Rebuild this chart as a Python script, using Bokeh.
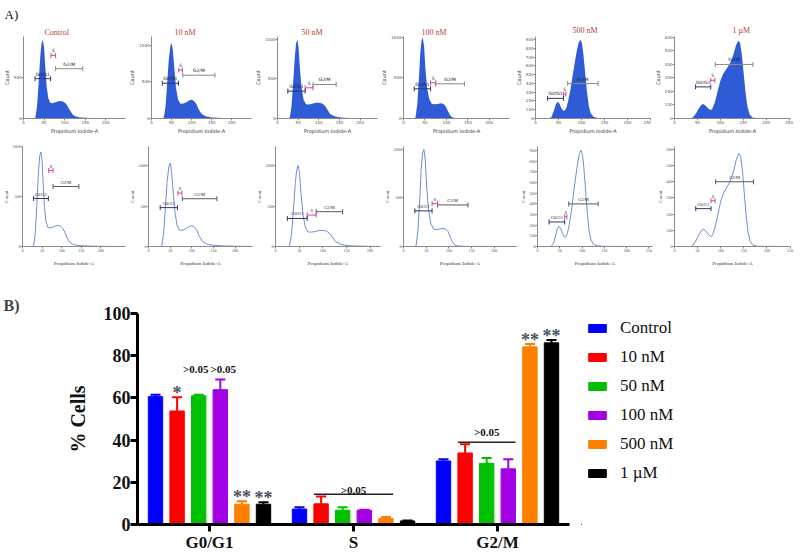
import math
from bokeh.plotting import figure
from bokeh.models import Range1d, FactorRange, FixedTicker, ColumnDataSource, Legend, LegendItem, Title, Label
from bokeh.transform import dodge
from bokeh.layouts import column, row
from bokeh.embed import file_html
from bokeh.resources import INLINE
from bokeh.core.properties import value

# ======================= DATA : panel A (DNA histograms) =======================
conditions = ["Control", "10 nM", "50 nM", "100 nM", "500 nM", "1 \u00b5M"]

pi_control = [0, 26, 29, 33, 37, 41, 44, 47, 50, 53, 56, 60, 65, 70, 78, 85, 92, 98, 104, 110, 115, 120, 127, 135, 150, 175, 210, 250]
count_control = [0, 0, 15, 150, 450, 760, 910, 945, 860, 620, 400, 250, 190, 185, 195, 208, 210, 200, 175, 125, 80, 45, 25, 15, 8, 4, 1, 0]

pi_10nm = [0, 28, 31, 35, 39, 43, 47, 50, 53, 57, 61, 66, 72, 80, 88, 95, 100, 106, 112, 118, 125, 135, 150, 175, 210, 250]
count_10nm = [0, 0, 20, 170, 480, 800, 990, 1030, 940, 680, 420, 260, 200, 205, 225, 250, 255, 240, 195, 120, 60, 30, 15, 6, 2, 0]

pi_50nm = [0, 27, 30, 34, 38, 42, 45, 48, 51, 54, 58, 63, 69, 76, 84, 92, 100, 108, 115, 121, 127, 135, 145, 160, 190, 240]
count_50nm = [0, 0, 15, 160, 460, 790, 950, 1000, 900, 650, 400, 240, 180, 178, 185, 198, 200, 190, 160, 110, 60, 35, 18, 8, 3, 0]

pi_100nm = [0, 25, 28, 32, 36, 39, 42, 45, 48, 51, 55, 60, 66, 72, 80, 87, 93, 98, 103, 108, 113, 120, 135, 250]
count_100nm = [0, 0, 15, 170, 500, 800, 960, 1000, 890, 620, 380, 240, 180, 175, 180, 187, 180, 155, 100, 45, 15, 5, 1, 0]

pi_500nm = [0, 30, 35, 40, 44, 48, 52, 56, 60, 63, 67, 71, 76, 81, 86, 90, 94, 98, 101, 104, 108, 112, 116, 120, 126, 135, 150, 250]
count_500nm = [0, 0, 20, 90, 160, 190, 170, 120, 90, 88, 120, 200, 330, 500, 660, 780, 870, 900, 860, 740, 520, 300, 140, 60, 20, 6, 1, 0]

pi_1um = [0, 36, 42, 48, 54, 59, 63, 68, 73, 78, 82, 88, 94, 100, 106, 112, 118, 124, 129, 134, 139, 143, 147, 151, 155, 159, 164, 170, 180, 250]
count_1um = [0, 0, 15, 45, 80, 102, 107, 95, 75, 62, 68, 120, 200, 280, 330, 360, 390, 430, 480, 540, 575, 560, 470, 330, 190, 90, 30, 8, 1, 0]

gate_names = ["G0/G1", "S", "G2/M"]
gate_start_control = [28, 67, 78]
gate_end_control = [66, 78, 144]
gate_level_control = [480, 760, 600]
gate_start_10nm = [27, 68, 78]
gate_end_10nm = [67, 77, 158]
gate_level_10nm = [480, 660, 590]
gate_start_50nm = [25, 67, 86]
gate_end_50nm = [67, 86, 142]
gate_level_50nm = [346, 388, 430]
gate_start_100nm = [25, 63, 75]
gate_end_100nm = [63, 75, 142]
gate_level_100nm = [367, 441, 428]
gate_start_500nm = [26, 61, 70]
gate_end_500nm = [61, 66, 136]
gate_level_500nm = [230, 279, 399]
gate_start_1um = [46, 79, 89]
gate_end_1um = [79, 88, 171]
gate_level_1um = [234, 283, 400]

xticks_top = [[0, 50, 100, 150, 200], [0, 50, 100, 150, 200, 250], [0, 50, 100, 150, 200],
              [0, 50, 100, 150, 200, 250], [0, 50, 100, 150, 200, 250], [0, 50, 100, 150, 200, 250]]
yticks_top = [[0, 500], [0, 500, 1000], [0, 500, 1000], [0, 500, 1000],
              [0, 100, 200, 300, 400, 500, 600, 700, 800, 900], [0, 100, 200, 300, 400, 500, 600]]
xticks_bottom = [[0, 50, 100, 150, 200], [0, 50, 100, 150, 200], [0, 50, 100, 150, 200],
                 [0, 50, 100, 150, 200, 250], [0, 50, 100, 150, 200, 250], [0, 50, 100, 150, 200, 250]]
yticks_bottom = [[0, 500, 1000], [0, 500, 1000], [0, 500, 1000], [0, 500, 1000],
                 [0, 100, 200, 300, 400, 500, 600, 700, 800, 900], [0, 100, 200, 300, 400, 500, 600]]
scale_note = "x1000"

# ======================= DATA : panel B (bar chart) =======================
phases = ["G0/G1", "S", "G2/M"]
series = ["Control", "10 nM", "50 nM", "100 nM", "500 nM", "1 \u00b5M"]
mean_g0g1 = [60.6, 53.8, 61.0, 63.9, 9.6, 9.6]
mean_s = [7.3, 9.8, 6.8, 6.8, 2.8, 1.7]
mean_g2m = [30.1, 33.9, 29.0, 26.4, 84.2, 86.1]
err_g0g1 = [0.9, 6.5, 0.5, 4.8, 1.4, 1.0]
err_s = [0.9, 3.5, 1.4, 0.2, 0.8, 0.2]
err_g2m = [0.8, 4.1, 2.5, 4.5, 1.4, 1.4]
y_ticks_b = [0, 20, 40, 60, 80, 100]

star_marks = [("G0/G1", 1, "*"), ("G0/G1", 4, "**"), ("G0/G1", 5, "**"),
              ("G2/M", 4, "**"), ("G2/M", 5, "**")]
bracket_marks = [("S", 1, 4, ">0.05"), ("G2/M", 1, 3, ">0.05")]
pair_marks = [("G0/G1", 2, 3, ">0.05")]

# ======================= STYLE / LAYOUT =======================
SERIF = "Liberation Serif"
SANS = "DejaVu Sans"
fill_top = "#2f5cd6"
line_bottom = "#6f8fd2"
gate_colors = ["#2e3470", "#d0479c", "#8a8a8a"]
gate_colors_bottom = ["#2e3470", "#d0479c", "#5a5a5a"]
series_colors = ["#0000ff", "#ff0000", "#00c000", "#a400e4", "#ff8000", "#000000"]
bracket_text_gap = [4, 10]

TOP = dict(width=[126, 126, 126, 132, 141, 149], bl=[21, 18, 17, 21, 25, 21], br=[1, 1, 1, 1, 1, 10],
           height=136, bt=36, bb=17,
           x_end=[248, 249, 242, 247, 250, 253], y_end=[988, 1117, 1037, 1012, 937, 607],
           title_offset=[21, 23, 24, 18, 37, 58], title_standoff=[0, 0, 0, 0, 3, 4],
           note=[False, True, False, True, True, True])
BOT = dict(width=[126, 127, 128, 136, 136, 147], bl=[19, 13, 16, 16, 19, 21], br=[1, 1, 1, 1, 1, 10],
           height=132, bt=10, bb=22,
           x_end=[263, 240, 222, 249, 258, 251], y_end=[1000, 1235, 1235, 1030, 937, 618],
           note=[False, False, False, True, True, True])

curves_x = [pi_control, pi_10nm, pi_50nm, pi_100nm, pi_500nm, pi_1um]
curves_y = [count_control, count_10nm, count_50nm, count_100nm, count_500nm, count_1um]
gates_start = [gate_start_control, gate_start_10nm, gate_start_50nm, gate_start_100nm, gate_start_500nm, gate_start_1um]
gates_end = [gate_end_control, gate_end_10nm, gate_end_50nm, gate_end_100nm, gate_end_500nm, gate_end_1um]
gates_level = [gate_level_control, gate_level_10nm, gate_level_50nm, gate_level_100nm, gate_level_500nm, gate_level_1um]


def hist_panel(k, top_row):
    L = TOP if top_row else BOT
    font = SANS if top_row else SERIF
    p = figure(width=L["width"][k], height=L["height"],
               x_range=Range1d(0, L["x_end"][k]), y_range=Range1d(0, L["y_end"][k]),
               output_backend="svg", toolbar_location=None, title=None,
               min_border_left=L["bl"][k], min_border_right=L["br"][k],
               min_border_top=L["bt"], min_border_bottom=L["bb"])
    p.xgrid.visible = False
    p.ygrid.visible = False
    p.outline_line_color = None
    if top_row:
        p.add_layout(Title(text=conditions[k], text_font=SERIF, text_font_style="normal",
                           text_font_size="8px", text_color="#c23b33", align="left",
                           offset=TOP["title_offset"][k], standoff=TOP["title_standoff"][k]), "above")
    for ax, ticks in ((p.xaxis, (xticks_top if top_row else xticks_bottom)[k]),
                      (p.yaxis, (yticks_top if top_row else yticks_bottom)[k])):
        ax.ticker = FixedTicker(ticks=ticks)
        ax.minor_tick_line_color = None
        ax.major_tick_out = 2
        ax.major_tick_in = 0
        ax.major_label_standoff = 0
        ax.axis_label_standoff = 1
        ax.major_label_text_font = font
        ax.major_label_text_font_size = "4px"
        ax.major_label_text_color = "#555555"
        ax.axis_label_text_font = font
        ax.axis_label_text_font_size = "5px"
        ax.axis_label_text_font_style = "normal"
        ax.axis_label_text_color = "#333333"
        ax.axis_line_color = "#8a8a8a"
        ax.major_tick_line_color = "#8a8a8a"
    if not top_row:
        p.xaxis.axis_label_standoff = 6
    p.xaxis.axis_label = "Propidium Iodide-A"
    p.yaxis.axis_label = "Count"
    if L["note"][k]:
        p.add_layout(Label(x=L["x_end"][k], y=0, text=scale_note, text_font=font, text_font_size="3px",
                           text_color="#666666", text_align="right", text_baseline="top", y_offset=-7))
    src = ColumnDataSource(dict(x=curves_x[k], y=curves_y[k]))
    if top_row:
        p.varea(x="x", y1=0, y2="y", source=src, fill_color=fill_top)
    else:
        p.line(x="x", y="y", source=src, line_color=line_bottom, line_width=1)
    cols = gate_colors if top_row else gate_colors_bottom
    gs = gates_start[k]
    ge = gates_end[k]
    gl = gates_level[k]
    gsrc = ColumnDataSource(dict(x0=gs, x1=ge, y=gl, c=cols, name=gate_names,
                                 xm=[(a + b) / 2 for a, b in zip(gs, ge)]))
    p.segment(x0="x0", x1="x1", y0="y", y1="y", source=gsrc, line_color="c", line_width=1)
    csrc = ColumnDataSource(dict(x=gs + ge, y=gl + gl, c=cols + cols))
    p.scatter(x="x", y="y", source=csrc, marker="dash", angle=math.pi / 2, size=5,
              line_color="c", line_width=1)
    p.text(x="xm", y="y", text="name", source=gsrc, text_align="center", text_baseline="bottom",
           y_offset=-2, text_font=value(font), text_font_size="4.5px", text_color="#222222")
    return p


top_figs = [hist_panel(k, True) for k in range(6)]
top_figs[0].add_layout(Title(text="A)", text_font=SERIF, text_font_style="normal", text_font_size="13px",
                             text_color="#111111", align="left", offset=-19, standoff=8), "above")
top_row = row(*top_figs, spacing=0)
bottom_row = row(*[hist_panel(k, False) for k in range(6)], spacing=0)

# ======================= panel B =======================
pB = figure(width=575, height=286, x_range=FactorRange(factors=phases, range_padding=0),
            y_range=Range1d(0, 100), output_backend="svg", toolbar_location=None,
            min_border_left=137, min_border_right=6, min_border_top=45, min_border_bottom=30)
pB.xgrid.visible = False
pB.ygrid.visible = False
pB.outline_line_color = None
pB.title.text = "B)"
pB.title.text_font = SERIF
pB.title.text_font_size = "16px"
pB.title.text_font_style = "bold"
pB.title.align = "left"
pB.title.offset = -134
pB.title.standoff = 0

means = [mean_g0g1, mean_s, mean_g2m]
errs = [err_g0g1, err_s, err_g2m]
bar_w = 0.1
step = 0.15
offsets = [(j - (len(series) - 1) / 2) * step for j in range(len(series))]
up = [[means[k][j] + errs[k][j] for j in range(len(series))] for k in range(len(phases))]

for j, name in enumerate(series):
    src = ColumnDataSource(dict(grp=phases, top=[means[k][j] for k in range(3)],
                                up=[up[k][j] for k in range(3)]))
    pB.vbar(x=dodge("grp", offsets[j], range=pB.x_range), top="top", width=bar_w, source=src,
            fill_color=series_colors[j], line_color=series_colors[j])
    pB.segment(x0=dodge("grp", offsets[j], range=pB.x_range), x1=dodge("grp", offsets[j], range=pB.x_range),
               y0="top", y1="up", source=src, line_color=series_colors[j], line_width=2)
    pB.segment(x0=dodge("grp", offsets[j] - 0.035, range=pB.x_range),
               x1=dodge("grp", offsets[j] + 0.035, range=pB.x_range),
               y0="up", y1="up", source=src, line_color=series_colors[j], line_width=2)

for ph, j, txt in star_marks:
    k = phases.index(ph)
    s = ColumnDataSource(dict(grp=[ph], y=[up[k][j]], t=[txt]))
    pB.text(x=dodge("grp", offsets[j], range=pB.x_range), y="y", text="t", source=s,
            text_align="center", text_baseline="alphabetic", y_offset=-4,
            text_font=value(SERIF), text_font_size="18px", text_font_style="bold", text_color="#4a4f5c")

for (ph, a, b, txt), gap in zip(bracket_marks, bracket_text_gap):
    k = phases.index(ph)
    yb = max(up[k][a:b + 1]) + 1.0
    x0 = offsets[a] - bar_w / 2
    x1 = offsets[b] + bar_w / 2
    s = ColumnDataSource(dict(grp=[ph], y=[yb], t=[txt]))
    pB.segment(x0=dodge("grp", x0, range=pB.x_range), x1=dodge("grp", x1, range=pB.x_range),
               y0="y", y1="y", source=s, line_color="#222222", line_width=1.5)
    pB.text(x=dodge("grp", (x0 + x1) / 2, range=pB.x_range), y="y", text="t", source=s,
            text_align="center", text_baseline="alphabetic", y_offset=-gap,
            text_font=value(SERIF), text_font_size="11px", text_font_style="bold", text_color="#111111")

for ph, a, b, txt in pair_marks:
    k = phases.index(ph)
    yb = max(up[k][a:b + 1])
    xm = (offsets[a] + offsets[b]) / 2
    s = ColumnDataSource(dict(grp=[ph], y=[yb], t=[txt]))
    pB.text(x=dodge("grp", xm, range=pB.x_range), y="y", text="t", source=s,
            text_align="right", text_baseline="alphabetic", y_offset=-11, x_offset=-1,
            text_font=value(SERIF), text_font_size="11px", text_font_style="bold", text_color="#111111")
    pB.text(x=dodge("grp", xm, range=pB.x_range), y="y", text="t", source=s,
            text_align="left", text_baseline="alphabetic", y_offset=-11, x_offset=1,
            text_font=value(SERIF), text_font_size="11px", text_font_style="bold", text_color="#111111")

pB.yaxis.ticker = FixedTicker(ticks=y_ticks_b)
pB.yaxis.axis_label = "% Cells"
pB.yaxis.axis_label_standoff = 12
for ax in (pB.xaxis, pB.yaxis):
    ax.axis_line_width = 3
    ax.axis_line_color = "#000000"
    ax.major_tick_line_width = 3
    ax.major_tick_line_color = "#000000"
    ax.major_tick_out = 7
    ax.major_tick_in = 0
    ax.minor_tick_line_color = None
    ax.major_label_text_font = SERIF
    ax.major_label_text_font_style = "bold"
    ax.major_label_text_font_size = "18px"
    ax.major_label_text_color = "#111111"
    ax.axis_label_text_font = SERIF
    ax.axis_label_text_font_style = "bold"
    ax.axis_label_text_font_size = "20px"
    ax.axis_label_text_color = "#111111"
pB.yaxis.major_label_standoff = 0
pB.xaxis.major_label_standoff = 1
pB.xaxis.axis_label_standoff = 0
pB.xaxis.major_label_text_font_size = "17px"

# legend panel (its own small figure beside the bar chart); swatch renderers sit outside its range
pL = figure(width=225, height=286, x_range=Range1d(0, 1), y_range=Range1d(0, 1), title=None,
            x_axis_type=None, y_axis_type=None, output_backend="svg", toolbar_location=None,
            min_border_left=6, min_border_right=0, min_border_top=45, min_border_bottom=30)
pL.outline_line_color = None
pL.xgrid.visible = False
pL.ygrid.visible = False
items = []
for j, name in enumerate(series):
    r = pL.vbar(x="x", top="top", width=0.1, source=ColumnDataSource(dict(x=[-5], top=[-5])),
                fill_color=series_colors[j], line_color=series_colors[j])
    items.append(LegendItem(label=name, renderers=[r]))
legend = Legend(items=items, location="top_left", padding=0, margin=5,
                border_line_color=None, background_fill_alpha=0,
                glyph_width=22, glyph_height=10, label_height=20, spacing=9, label_standoff=12,
                label_text_font=SERIF, label_text_font_size="17px", label_text_color="#111111")
pL.add_layout(legend)

layout = column(top_row, bottom_row, row(pB, pL, spacing=0), spacing=0)
open("out.html", "w").write(file_html(layout, INLINE))
